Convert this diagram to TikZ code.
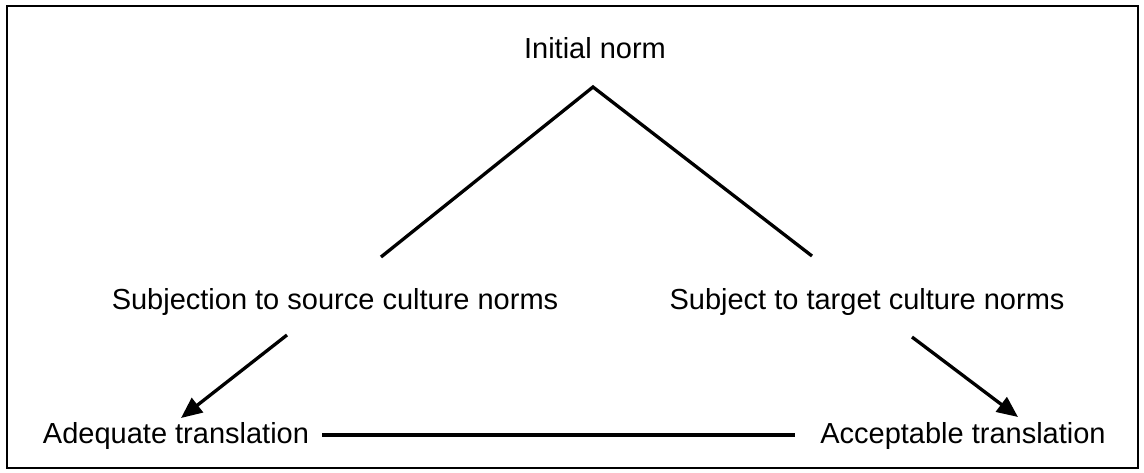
\documentclass[tikz,border=0pt]{standalone}
\usepackage{fontspec}
\setmainfont{Liberation Sans}
\usetikzlibrary{arrows.meta}
\begin{document}
\begin{tikzpicture}[x=1pt,y=-1pt,
  lbl/.style={font=\fontsize{29}{34}\selectfont, inner sep=0pt, anchor=base},
  conn/.style={line width=3.3pt},
  arr/.style={conn, -{Triangle[length=21pt,width=18pt]}},
  frame/.style={line width=2.2pt}]
\useasboundingbox (0,0) rectangle (1144,472);
\draw[frame] (7,6) rectangle (1138,468);
\node[lbl] (init) at (595,58) {Initial norm};
\node[lbl] (src) at (335,309) {Subjection to source culture norms};
\node[lbl] (tgt) at (867,309) {Subject to target culture norms};
\node[lbl] (adq) at (176,443) {Adequate translation};
\node[lbl] (acc) at (963,443) {Acceptable translation};
\coordinate (apex) at (593,87);
\coordinate (lend) at (381,257);
\coordinate (rend) at (812,256);
\coordinate (la1) at (287,335);
\coordinate (la2) at (181,418);
\coordinate (ra1) at (912,337);
\coordinate (ra2) at (1018,417);
\coordinate (h1) at (322,435);
\coordinate (h2) at (795,435);
\draw[conn] (lend) -- (apex) -- (rend);
\draw[arr] (la1) -- (la2);
\draw[arr] (ra1) -- (ra2);
\draw[conn] (h1) -- (h2);
\end{tikzpicture}
\end{document}
